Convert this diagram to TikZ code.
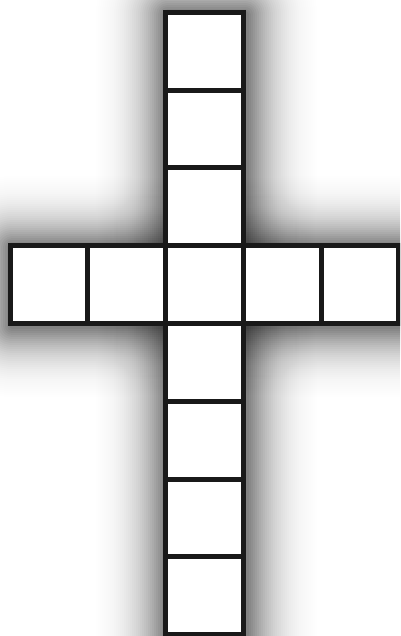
\documentclass[tikz,border=0pt]{standalone}
\begin{document}
\begin{tikzpicture}[x=1pt,y=-1pt,
    cell/.style={draw=black!90,fill=white,line width=5pt},
    haze/.style={draw=black,line join=round}]
    \useasboundingbox (0,0) rectangle (400,636);
    \clip (0,0) rectangle (400,636);
    \begin{scope}[shift={(2,2)}]
        \foreach \d in {100,98,...,0}{
            \pgfmathsetmacro\a{(exp(-0.0567*\d)-exp(-0.0567*(\d+2)))/(1+exp(-0.0567*\d))}
            \draw[haze,line width={2*(\d+3.5)*1pt},opacity=\a] (165.5,12.5) rectangle (243.25,634.5);
            \draw[haze,line width={2*(\d+3.5)*1pt},opacity=\a] (10,245.75) rectangle (398.75,323.5);
        }
    \end{scope}
    \foreach \i in {0,...,7}
        \draw[cell] (165.5,12.5+\i*77.75) rectangle +(77.75,77.75);
    \foreach \i in {0,1,3,4}
        \draw[cell] (10+\i*77.75,245.75) rectangle +(77.75,77.75);
\end{tikzpicture}
\end{document}
